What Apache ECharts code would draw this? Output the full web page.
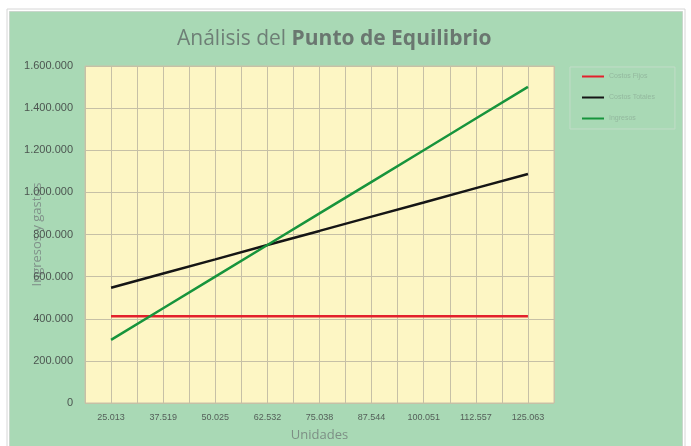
<!DOCTYPE html>
<html>
<head>
<meta charset="utf-8">
<script src="https://cdn.jsdelivr.net/npm/echarts@6/dist/echarts.min.js"></script>
<style>
  html, body { margin: 0; padding: 0; background: #fff; }
  #chart { width: 691px; height: 446px; }
</style>
</head>
<body>
<div id="chart"></div>
<script>
// unidades (eje x)
var unidades = ['25.013', '37.519', '50.025', '62.532', '75.038', '87.544', '100.051', '112.557', '125.063'];
// series
var costosFijos = [412000, 412000, 412000, 412000, 412000, 412000, 412000, 412000, 412000];
var costosTotales = [547000, 615000, 682000, 750000, 817000, 885000, 952000, 1020000, 1087000];
var ingresos = [300000, 450000, 600000, 750000, 900000, 1050000, 1200000, 1351000, 1501000];

var myChart = echarts.init(document.getElementById('chart'));

// eje auxiliar solo para las lineas de la cuadricula (cada media categoria)
var medias = [];
unidades.forEach(function () { medias.push(''); medias.push(''); });

function fmtMiles(v) {
    return String(v).replace(/\B(?=(\d{3})+(?!\d))/g, '.');
}

var option = {
    backgroundColor: '#ffffff',
    animation: false,
    graphic: [
        { type: 'rect', z: -10, shape: { x: 7, y: 9, width: 678, height: 445 },
          style: { fill: '#ffffff', stroke: '#d6d6d6', lineWidth: 1 } },
        { type: 'rect', z: -9, shape: { x: 9.5, y: 11.5, width: 673, height: 440 },
          style: { fill: '#a9d9b5', stroke: '#c9d6cc', lineWidth: 1 } }
    ],
    title: {
        text: '{a|Análisis del }{b|Punto de Equilibrio}',
        left: 172,
        top: 24,
        textStyle: {
            fontWeight: 'normal',
            rich: {
                a: { fontFamily: 'Open Sans', fontSize: 21, fontWeight: 'normal', color: '#6e7f76' },
                b: { fontFamily: 'Open Sans', fontSize: 21, fontWeight: 'bold', color: '#6a7770' }
            }
        }
    },
    legend: {
        orient: 'vertical',
        left: 570,
        top: 67,
        padding: [6, 20, 7, 12],
        itemGap: 14,
        itemWidth: 22,
        itemHeight: 2,
        icon: 'rect',
        backgroundColor: '#a9d9b5',
        borderColor: '#c2dcc8',
        borderWidth: 1,
        textStyle: { fontSize: 7, color: '#93b89e', fontFamily: 'Arial' },
        data: ['Costos Fijos', 'Costos Totales', 'Ingresos']
    },
    grid: {
        left: 85,
        right: 137,
        top: 66,
        bottom: 43,
        outerBoundsMode: 'none',
        show: true,
        backgroundColor: '#fdf6c4',
        borderColor: '#c8c2a8',
        borderWidth: 1
    },
    xAxis: [{
        type: 'category',
        data: unidades,
        boundaryGap: true,
        name: 'Unidades',
        nameLocation: 'middle',
        nameGap: 26,
        nameMoveOverlap: false,
        nameTextStyle: { fontFamily: 'Open Sans', fontSize: 13, color: '#7d8f85' },
        axisLine: { show: false },
        axisTick: { show: false },
        splitLine: { show: false },
        axisLabel: { fontSize: 9, color: '#55605a', fontFamily: 'Arial', margin: 10 }
    }, {
        type: 'category',
        data: medias,
        boundaryGap: true,
        position: 'bottom',
        axisLine: { show: false },
        axisTick: { show: false },
        axisLabel: { show: false },
        splitLine: { show: true, interval: 0, lineStyle: { color: '#c6c0a6', width: 1 } }
    }],
    yAxis: {
        type: 'value',
        min: 0,
        max: 1600000,
        interval: 200000,
        name: 'Ingresos y gastos',
        nameLocation: 'middle',
        nameGap: 41,
        nameRotate: 90,
        nameMoveOverlap: false,
        nameTextStyle: { fontFamily: 'Open Sans', fontSize: 13, color: '#80928a' },
        axisLine: { show: false },
        axisTick: { show: false },
        axisLabel: {
            fontSize: 11, color: '#4c5550', fontFamily: 'Arial', margin: 12,
            formatter: function (v) { return fmtMiles(v); }
        },
        splitLine: { show: true, lineStyle: { color: '#c6c0a6', width: 1 } }
    },
    series: [{
        name: 'Costos Fijos',
        type: 'line',
        data: costosFijos,
        symbol: 'none',
        color: '#e3202c',
        lineStyle: { width: 2.5 }
    }, {
        name: 'Costos Totales',
        type: 'line',
        data: costosTotales,
        symbol: 'none',
        color: '#151515',
        lineStyle: { width: 2.5 }
    }, {
        name: 'Ingresos',
        type: 'line',
        data: ingresos,
        symbol: 'none',
        color: '#17943c',
        lineStyle: { width: 2.5 }
    }]
};
myChart.setOption(option);
</script>
</body>
</html>
